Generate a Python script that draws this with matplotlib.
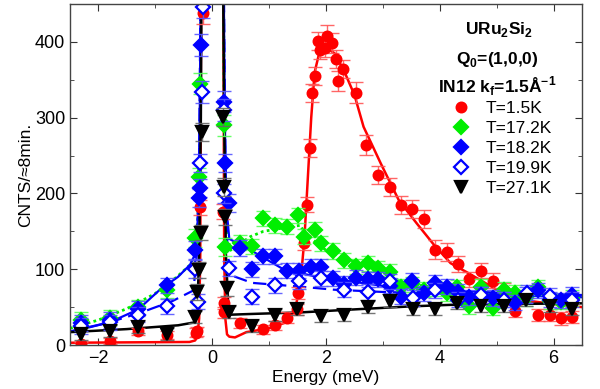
import matplotlib
matplotlib.use('Agg')
import matplotlib.pyplot as plt
from matplotlib.ticker import MultipleLocator

plt.rcParams['font.family'] = ['Liberation Sans', 'DejaVu Sans']
plt.rcParams['mathtext.fontset'] = 'custom'
plt.rcParams['mathtext.bf'] = 'Liberation Sans:bold'
plt.rcParams['mathtext.rm'] = 'Liberation Sans'

# ---- data points (energy meV, counts, error) ----
red_e = [-2.30, -1.80, -1.31, -0.80, -0.29, -0.26, -0.22, -0.16, 0.19, 0.20, 0.21, 0.49, 0.90, 1.11, 1.32,
         1.49, 1.50, 1.61, 1.66, 1.71, 1.76, 1.81, 1.86, 1.90, 1.99, 2.01, 2.11, 2.17, 2.21, 2.29,
         2.52, 2.71, 2.91, 3.12, 3.32, 3.52, 3.72, 3.92, 4.12, 4.32, 4.52, 4.72, 4.93, 5.13, 5.33,
         5.72, 5.93, 6.13, 6.33]
red_i = [1, 5, 18, 13, 16, 18, 182, 438, 176, 55, 43, 29, 21, 26, 36,
         47, 69, 135, 185, 260, 333, 355, 401, 389, 392, 408, 399, 377, 348, 364,
         333, 264, 224, 208, 185, 179, 166, 126, 123, 107, 87, 98, 85, 72, 45,
         40, 40, 35, 37]
red_err = [3, 4, 5, 5, 6, 6, 10, 15, 10, 8, 7, 6, 6, 6, 7,
           7, 8, 10, 10, 12, 12, 12, 12, 12, 12, 14, 13, 12, 13, 12,
           14, 13, 12, 12, 12, 12, 12, 12, 12, 11, 10, 10, 10, 10, 8,
           8, 8, 8, 8]

green_e = [-2.30, -1.80, -1.31, -0.80, -0.30, -0.24, -0.21, 0.20, 0.23, 0.49, 0.70, 0.90, 1.11, 1.32,
           1.50, 1.61, 1.81, 1.92, 2.12, 2.31, 2.52, 2.73, 2.91, 3.12, 3.31, 3.52, 3.72, 3.92,
           4.12, 4.31, 4.52, 4.72, 4.93, 5.13, 5.33, 5.52, 5.72, 5.93, 6.13, 6.33]
green_i = [33, 36, 50, 72, 141, 222, 345, 290, 129, 135, 130, 167, 158, 156,
           171, 143, 152, 134, 124, 112, 104, 108, 101, 97, 77, 80, 73, 75,
           68, 76, 51, 77, 49, 73, 69, 62, 76, 58, 57, 62]
green_err = [10, 10, 10, 10, 12, 12, 14, 14, 12, 10, 10, 10, 10, 10,
             10, 10, 10, 10, 10, 10, 10, 10, 10, 10, 10, 10, 10, 10,
             10, 10, 10, 10, 10, 10, 10, 10, 10, 10, 10, 10]

blue_e = [-2.30, -1.80, -1.31, -0.80, -0.30, -0.24, -0.21, -0.19, 0.20, 0.23, 0.29, 0.49, 0.70, 0.90,
          1.11, 1.32, 1.52, 1.73, 1.92, 2.12, 2.31, 2.52, 2.73, 2.91, 3.12, 3.31, 3.52, 3.72,
          3.92, 4.12, 4.32, 4.52, 4.72, 4.93, 5.13, 5.33, 5.52, 5.72, 5.93, 6.13, 6.33]
blue_i = [29, 33, 48, 79, 125, 194, 207, 396, 321, 240, 187, 128, 100, 117,
          117, 98, 98, 103, 103, 88, 81, 89, 87, 87, 78, 64, 85, 68,
          82, 77, 70, 63, 66, 62, 60, 56, 66, 72, 60, 59, 66]
blue_err = [10, 10, 10, 10, 12, 12, 12, 15, 14, 12, 12, 10, 10, 10,
            10, 10, 10, 10, 10, 10, 10, 10, 10, 10, 10, 10, 10, 10,
            10, 10, 10, 10, 10, 10, 10, 10, 10, 10, 10, 10, 10]

open_e = [-2.30, -1.80, -1.31, -0.80, -0.30, -0.25, -0.21, -0.18, -0.17, 0.20, 0.21, 0.29, 0.70, 1.11,
          1.52, 1.92, 2.31, 2.73, 3.12, 3.53, 3.92, 4.32, 4.72, 5.13, 5.53, 5.93, 6.33]
open_i = [25, 30, 40, 51, 100, 57, 240, 334, 446, 310, 200, 101, 64, 79,
          84, 88, 73, 70, 84, 62, 72, 60, 66, 60, 69, 65, 60]
open_err = [10, 10, 10, 10, 12, 10, 12, 14, 15, 14, 12, 10, 10, 10,
            10, 10, 10, 10, 10, 10, 10, 10, 10, 10, 10, 10, 10]

black_e = [-2.30, -1.80, -1.31, -0.80, -0.30, -0.27, -0.24, -0.19, -0.18, 0.19, 0.20, 0.23, 0.26, 0.29,
           0.70, 1.11, 1.49, 1.92, 2.31, 2.73, 3.12, 3.53, 3.92, 4.31, 4.72, 5.13, 5.52, 5.93, 6.33]
black_i = [15, 19, 24, 14, 37, 70, 99, 148, 281, 301, 209, 169, 75, 43,
           25, 40, 48, 38, 40, 50, 58, 48, 48, 55, 51, 51, 59, 51, 47]
black_err = [8, 8, 8, 8, 8, 10, 10, 10, 12, 12, 12, 10, 10, 8,
             8, 8, 8, 8, 8, 8, 8, 8, 8, 8, 8, 8, 8, 8, 8]

# ---- fit curves ----
red_fit_e = [-2.5, -0.4, -0.3, -0.26, -0.23, -0.21, -0.19, 0.19, 0.21, 0.23, 0.26, 0.30, 0.40, 0.6, 1.0, 1.3,
             1.45, 1.55, 1.62, 1.68, 1.74, 1.80, 1.88, 1.96, 2.05, 2.15, 2.31, 2.5, 2.66, 2.96, 3.28,
             3.6, 3.9, 4.19, 4.5, 5.0, 5.4, 6.0, 6.5]
red_fit_i = [3, 4, 6, 12, 35, 120, 600, 600, 120, 35, 14, 11, 10, 17, 22, 30,
             45, 80, 140, 220, 300, 360, 385, 390, 390, 385, 363, 330, 288, 240, 191,
             160, 132, 108, 95, 73, 60, 54, 50]

green_fit_e = [-2.5, -2.0, -1.5, -1.0, -0.62, -0.4, -0.3, -0.25, -0.21, -0.19, 0.19, 0.21, 0.25, 0.32,
               0.67, 0.9, 1.37, 1.55, 1.62, 2.0, 2.5, 3.0, 3.37, 3.79, 4.2, 5.0, 5.8, 6.5]
green_fit_i = [22, 33, 48, 68, 90, 105, 120, 170, 300, 600, 600, 300, 150, 125,
               143, 150, 156, 158, 148, 125, 110, 95, 82, 77, 72, 68, 66, 65]

blue_fit_e = [-2.5, -1.8, -1.3, -0.92, -0.6, -0.39, -0.3, -0.25, -0.22, -0.19, 0.19, 0.22, 0.25, 0.3,
              0.61, 1.25, 1.84, 2.43, 3.0, 4.2, 5.0, 5.8, 6.5]
blue_fit_i = [17, 30, 47, 73, 90, 106, 120, 170, 300, 600, 600, 300, 180, 140,
              128, 100, 90, 84, 78, 72, 69, 67, 66]

open_fit_e = [-2.5, -1.8, -1.21, -0.7, -0.33, -0.27, -0.23, -0.19, 0.19, 0.23, 0.27, 0.33,
              0.7, 1.2, 1.55, 2.14, 3.0, 4.0, 5.0, 6.5]
open_fit_i = [18, 30, 44, 58, 72, 120, 250, 600, 600, 250, 120, 92,
              82, 79, 77, 73, 70, 68, 66, 63]

black_fit_e = [-2.5, -1.5, -0.6, -0.3, -0.26, -0.23, -0.2, -0.18, 0.18, 0.21, 0.24, 0.28, 0.32,
               0.7, 1.55, 2.5, 3.5, 4.19, 5.0, 6.5]
black_fit_i = [17, 21, 26, 30, 50, 120, 300, 600, 600, 300, 120, 55, 40,
               41, 43, 47, 51, 53, 54, 55]

labels = ['T=1.5K', 'T=17.2K', 'T=18.2K', 'T=19.9K', 'T=27.1K']

fig = plt.figure(figsize=(6, 3.89), dpi=100)
ax = fig.add_axes([0.1167, 0.1131, 0.8533, 0.8766])

# fits
ax.plot(red_fit_e, red_fit_i, color='red', lw=1.8)
ax.plot(green_fit_e, green_fit_i, color='#00ee00', lw=2.0, ls=(0, (1, 1.2)))
ax.plot(blue_fit_e, blue_fit_i, color='blue', lw=1.6)
ax.plot(open_fit_e, open_fit_i, color='blue', lw=1.6, ls=(0, (6, 3)))
ax.plot(black_fit_e, black_fit_i, color='black', lw=1.8)

# data
sets = [
    (red_e, red_i, red_err, 'red', '#ff5555', 'o', 'red', 7),
    (green_e, green_i, green_err, '#00ee00', '#55ff55', 'D', '#00ee00', 7.5),
    (blue_e, blue_i, blue_err, 'blue', '#5555ff', 'D', 'blue', 7.5),
    (open_e, open_i, open_err, 'blue', '#5555ff', 'D', 'white', 7.5),
    (black_e, black_i, black_err, 'black', '#666666', 'v', 'black', 8),
]
handles = []
for (e, i, err, col, ecol, mk, face, ms), lab in zip(sets, labels):
    ax.errorbar(e, i, yerr=err, fmt='none', ecolor=ecol, elinewidth=1.0, capsize=5, capthick=1.0, alpha=0.9)
    h, = ax.plot(e, i, ls='none', marker=mk, ms=ms, mfc=face, mec=col, mew=1.6, label=lab)
    handles.append(h)

ax.set_xlim(-2.5, 6.5)
ax.set_ylim(0, 450)
ax.xaxis.set_major_locator(MultipleLocator(2))
ax.xaxis.set_minor_locator(MultipleLocator(1))
ax.yaxis.set_major_locator(MultipleLocator(100))
ax.yaxis.set_minor_locator(MultipleLocator(50))
ax.tick_params(which='both', direction='in', top=True, right=True, labelsize=13, color='#333333')
ax.tick_params(which='major', length=5)
ax.tick_params(which='minor', length=3)
for s in ax.spines.values():
    s.set_color('#444444')
    s.set_linewidth(1.0)

ax.set_xlabel('Energy (meV)', fontsize=12.5, labelpad=2)
ax.set_ylabel('CNTS/≈8min.', fontsize=12.5, labelpad=1)

ax.text(0.838, 0.924, r'URu$_\mathbf{2}$Si$_\mathbf{2}$', transform=ax.transAxes,
        ha='center', va='center', fontsize=12.5, fontweight='bold')
ax.text(0.835, 0.837, r'Q$_\mathbf{0}$=(1,0,0)', transform=ax.transAxes,
        ha='center', va='center', fontsize=12.5, fontweight='bold')
ax.text(0.835, 0.760, r'IN12 k$_\mathbf{f}$=1.5Å$^\mathbf{-1}$', transform=ax.transAxes,
        ha='center', va='center', fontsize=12.5, fontweight='bold')

ax.legend(handles=handles, loc='upper left', bbox_to_anchor=(0.747, 0.715), frameon=False,
          fontsize=12.5, handlelength=1.0, handletextpad=0.9, borderpad=0, borderaxespad=0,
          labelspacing=0.28)

fig.savefig('out.png', dpi=100)
